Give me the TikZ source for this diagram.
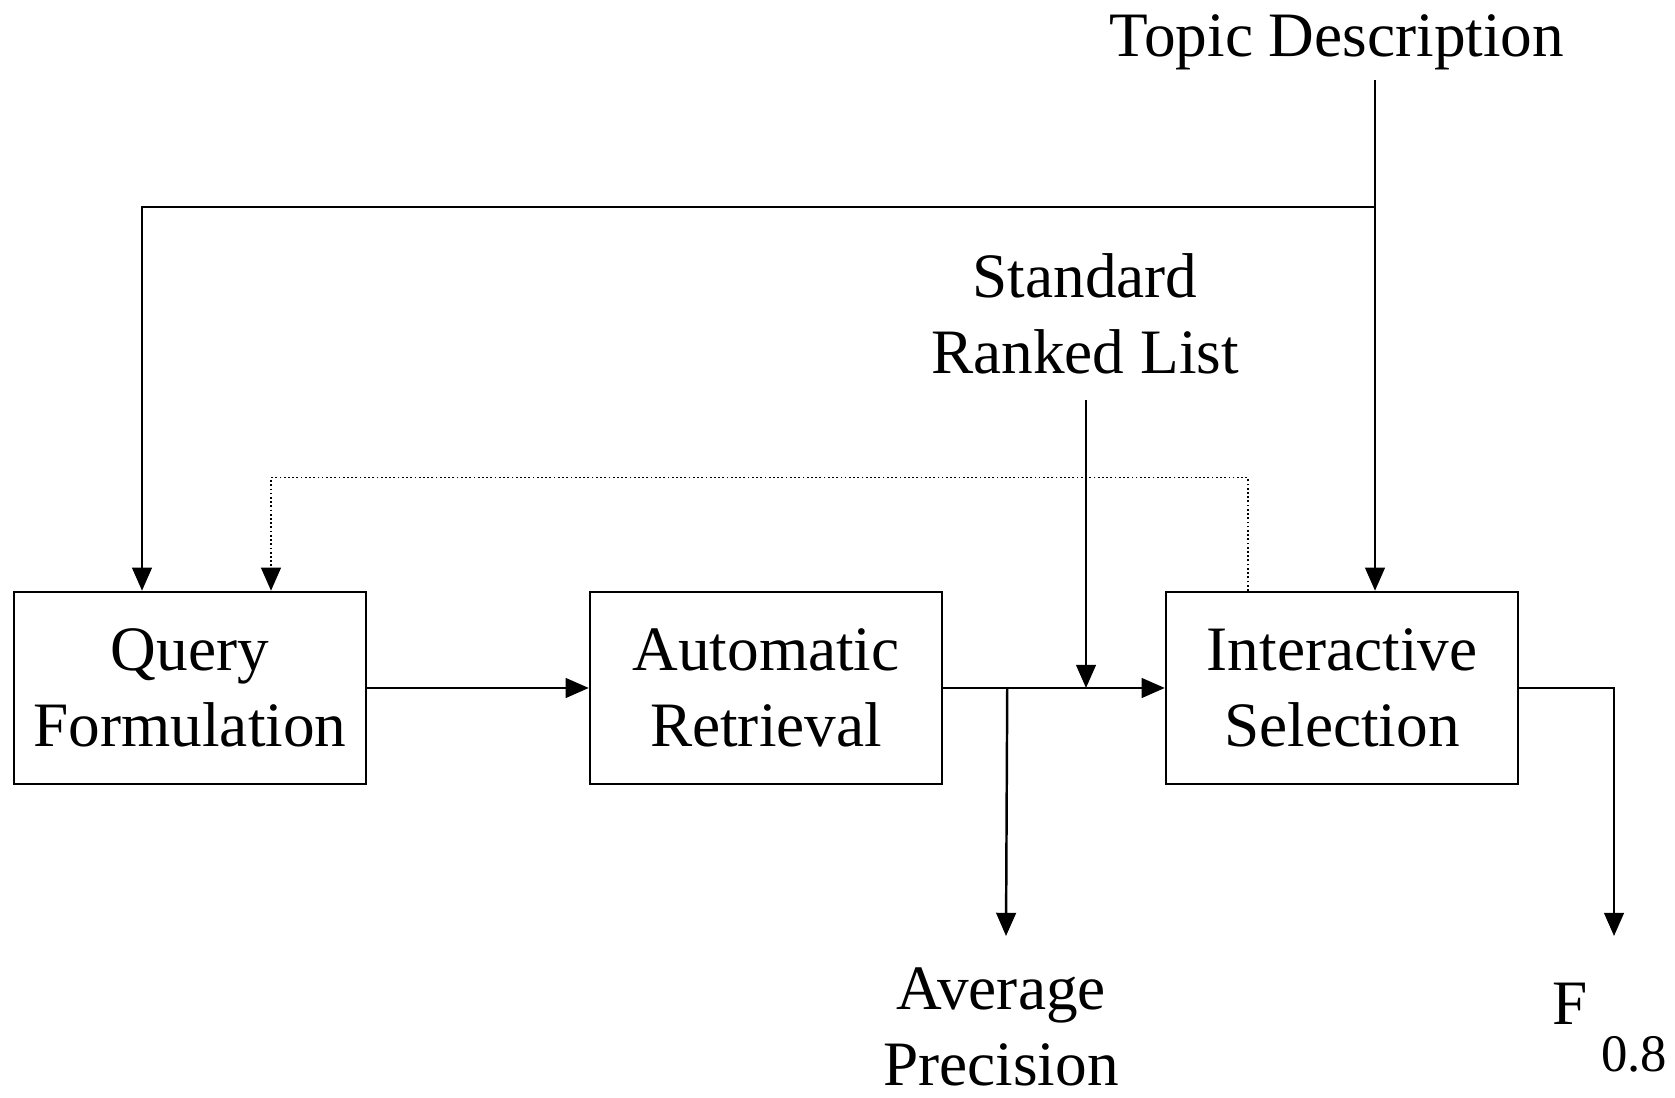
\documentclass[tikz,border=0pt]{standalone}
\usepackage{fontspec}
\setmainfont{Liberation Serif}
\usepackage{tikz}
\usetikzlibrary{arrows.meta}
\tikzstyle{stage} = [rectangle, minimum width=3.52cm, minimum height=1.92cm, text centered, align=center, draw=black, line width=0.7pt]
\tikzstyle{label} = [align=center, inner sep=0pt]
\tikzstyle{arrow} = [line width=0.7pt, -{Triangle[length=6.6pt, width=5.6pt]}]
\tikzstyle{feedback} = [line width=0.35pt, dash pattern=on 0.5pt off 0.7pt, -{Triangle[length=6.6pt, width=5.6pt, line width=0.7pt]}]

\begin{document}
\begin{tikzpicture}[node distance=5.76cm, font=\fontsize{18}{21.5}\selectfont]
\useasboundingbox (0,0) rectangle (16.75,10.98);
\node (query) [stage] at (1.90,4.10) {Query\\Formulation};
\node (retrieval) [stage, right of = query] {Automatic\\Retrieval};
\node (selection) [stage, right of = retrieval] {Interactive\\Selection};
\node (topic) [label] at (13.37,10.56) {Topic Description};
\node (ranked) [label] at (10.85,7.84) {Standard\\Ranked List};
\node (avgprec) [label] at (10.01,0.71) {Average\\Precision};
\node (fscore) [label] at (15.70,0.94) {F};
\node (fsub) [label, font=\fontsize{15}{18}\selectfont] at (16.34,0.44) {0.8};
\coordinate (split) at (13.75,8.91);
\coordinate (apend) at (10.06,1.62);
\coordinate (fend) at (16.14,1.62);
\draw [line width=0.7pt] (13.75,10.18) -- (split);
\draw [arrow] (split) -- (selection.north -| split);
\draw [arrow] (split) -| ([xshift=-0.48cm]query.north);
\draw [arrow] (query) -- (retrieval);
\draw [arrow] (retrieval) -- (selection);
\draw [arrow] (10.86,6.98) -- (10.86,4.10);
\draw [arrow] ([xshift=0.64cm]retrieval.east) -- (apend);
\draw [arrow] (selection.east) -| (fend);
\draw [feedback] ([xshift=-0.94cm]selection.north) -- ++(0,1.13) -| ([xshift=0.81cm]query.north);
\end{tikzpicture}
\end{document}
